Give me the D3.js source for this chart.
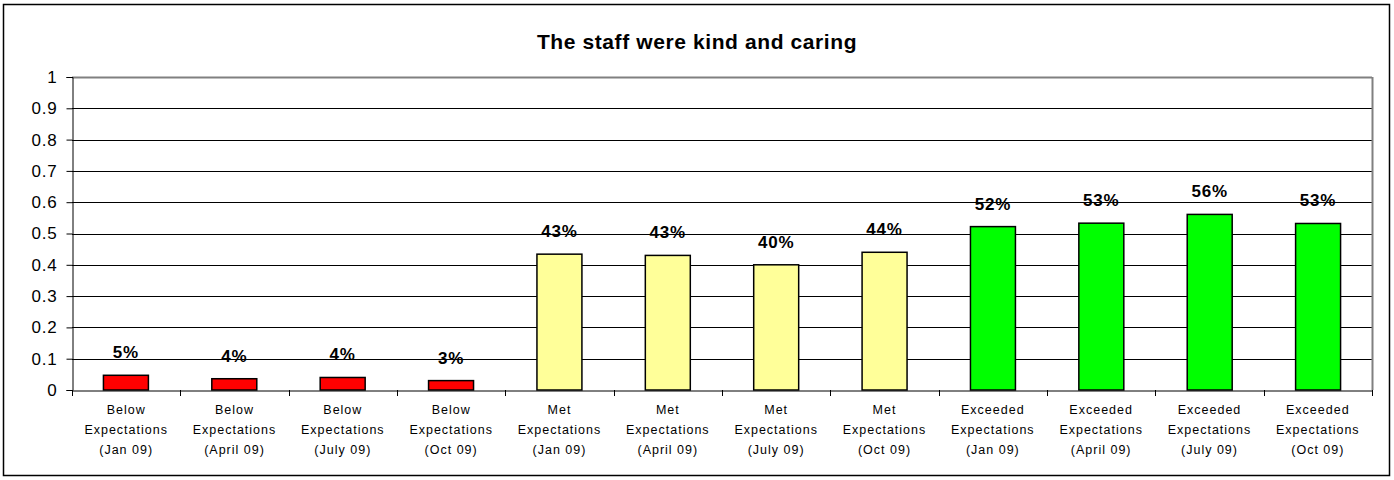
<!DOCTYPE html>
<html>
<head>
<meta charset="utf-8">
<script src="https://cdn.jsdelivr.net/npm/d3@7"></script>
<style>
  body { margin: 0; background: #fff; }
  svg text { font-family: Arial, "Liberation Sans", sans-serif; }
</style>
</head>
<body>
<div id="chart"></div>
<script>
const width = 1394;
const height = 480;

// Chart data
const groups = ["Below", "Below", "Below", "Below", "Met", "Met", "Met", "Met",
                "Exceeded", "Exceeded", "Exceeded", "Exceeded"];
const periods = ["(Jan 09)", "(April 09)", "(July 09)", "(Oct 09)",
                 "(Jan 09)", "(April 09)", "(July 09)", "(Oct 09)",
                 "(Jan 09)", "(April 09)", "(July 09)", "(Oct 09)"];
const values = [0.047, 0.036, 0.04, 0.03, 0.434, 0.43, 0.40, 0.44, 0.522, 0.533, 0.561, 0.532];
const groupColors = { "Below": "#ff0000", "Met": "#ffff99", "Exceeded": "#00ff00" };
const yTicks = [0, 0.1, 0.2, 0.3, 0.4, 0.5, 0.6, 0.7, 0.8, 0.9, 1];

const margin = { top: 77, right: 22, bottom: 90, left: 72 };

const svg = d3.select("#chart").append("svg")
    .attr("width", width)
    .attr("height", height);

// outer chart border
svg.append("rect")
    .attr("x", 3.5).attr("y", 4.5)
    .attr("width", 1386).attr("height", 471)
    .attr("fill", "#fff")
    .attr("stroke", "#000")
    .attr("stroke-width", 1.5);

svg.append("text")
    .attr("x", 697).attr("y", 49)
    .attr("text-anchor", "middle")
    .style("font-size", "21px")
    .style("font-weight", "bold")
    .style("letter-spacing", "0.6px")
    .text("The staff were kind and caring");

const idx = d3.range(values.length);

const x = d3.scaleBand()
    .domain(idx)
    .range([margin.left, width - margin.right])
    .paddingInner(0.585)
    .paddingOuter(0.29);

const xTicks = d3.scaleBand().domain(idx).range([margin.left, width - margin.right]);

const y = d3.scaleLinear()
    .domain([0, 1])
    .range([height - margin.bottom, margin.top]);

// gridlines
svg.append("g")
    .selectAll("line")
    .data(yTicks.slice(1))
    .join("line")
    .attr("x1", margin.left).attr("x2", width - margin.right)
    .attr("y1", d => Math.round(y(d)) + 0.5).attr("y2", d => Math.round(y(d)) + 0.5)
    .attr("stroke", d => d === 1 ? "#808080" : "#000")
    .attr("stroke-width", d => d === 1 ? 2 : 1);

// plot area right border
svg.append("line")
    .attr("x1", width - margin.right + 0.5).attr("x2", width - margin.right + 0.5)
    .attr("y1", y(1)).attr("y2", y(0))
    .attr("stroke", "#808080").attr("stroke-width", 2);

// y axis
const yAxis = svg.append("g")
    .attr("transform", `translate(${margin.left + 0.5},0)`)
    .call(d3.axisLeft(y).tickValues(yTicks).tickFormat(d3.format("")).tickSize(6).tickPadding(9));
yAxis.select(".domain").attr("stroke", "#000");
yAxis.selectAll("text")
    .style("font-size", "17px")
    .style("letter-spacing", "0.8px")
    .attr("fill", "#000")
    .attr("font-family", null);

// bars
svg.append("g")
    .selectAll("rect")
    .data(idx)
    .join("rect")
    .attr("x", i => x(i))
    .attr("y", i => y(values[i]))
    .attr("width", x.bandwidth())
    .attr("height", i => y(0) - y(values[i]))
    .attr("fill", i => groupColors[groups[i]])
    .attr("stroke", "#000")
    .attr("stroke-width", 1.5);

// value labels
svg.append("g")
    .selectAll("text")
    .data(idx)
    .join("text")
    .attr("x", i => x(i) + x.bandwidth() / 2)
    .attr("y", i => y(values[i]) - 17)
    .attr("text-anchor", "middle")
    .style("font-size", "17px")
    .style("font-weight", "bold")
    .style("letter-spacing", "0.8px")
    .text(i => d3.format(".0%")(values[i]));

// x axis
const xAxis = svg.append("g")
    .attr("transform", `translate(0,${y(0) + 0.5})`)
    .call(d3.axisBottom(xTicks).tickValues([]).tickSizeOuter(0));
xAxis.select(".domain").attr("stroke", "#000");

svg.append("g")
    .selectAll("line")
    .data(d3.range(values.length + 1))
    .join("line")
    .attr("x1", i => Math.round(margin.left + i * xTicks.step()) + 0.5)
    .attr("x2", i => Math.round(margin.left + i * xTicks.step()) + 0.5)
    .attr("y1", y(0)).attr("y2", y(0) + 6)
    .attr("stroke", "#000");

// category labels
const cat = svg.append("g")
    .selectAll("text")
    .data(idx)
    .join("text")
    .attr("text-anchor", "middle")
    .style("font-size", "12.5px")
    .style("letter-spacing", "1px")
    .attr("x", i => xTicks(i) + xTicks.bandwidth() / 2)
    .attr("y", y(0) + 24);

cat.append("tspan").attr("x", i => xTicks(i) + xTicks.bandwidth() / 2).text(i => groups[i]);
cat.append("tspan").attr("x", i => xTicks(i) + xTicks.bandwidth() / 2).attr("dy", 20).text("Expectations");
cat.append("tspan").attr("x", i => xTicks(i) + xTicks.bandwidth() / 2).attr("dy", 20).text(i => periods[i]);
</script>
</body>
</html>
